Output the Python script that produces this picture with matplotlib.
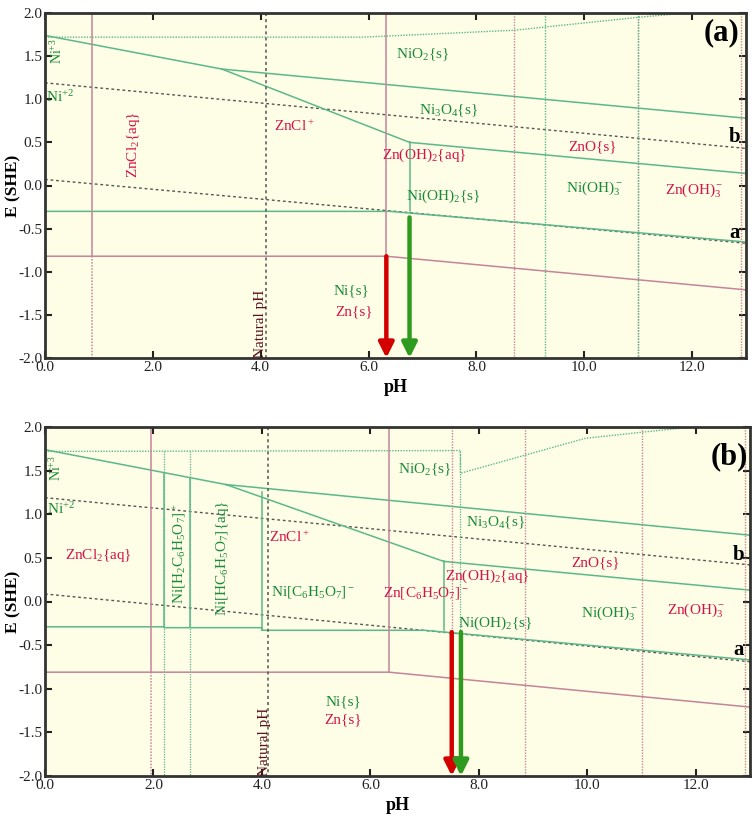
import matplotlib
matplotlib.use("Agg")
import matplotlib.pyplot as plt

plt.rcParams['font.family'] = ['Liberation Serif', 'DejaVu Serif']
plt.rcParams['mathtext.fontset'] = 'custom'
plt.rcParams['mathtext.rm'] = 'Liberation Serif'
plt.rcParams['mathtext.it'] = 'Liberation Serif:italic'
plt.rcParams['mathtext.bf'] = 'Liberation Serif:bold'
plt.rcParams['axes.unicode_minus'] = False

# ---------------- data (pH, E) ----------------
X_TICKS = [0, 2, 4, 6, 8, 10, 12]
Y_TICKS = [-2.0, -1.5, -1.0, -0.5, 0.0, 0.5, 1.0, 1.5, 2.0]

# panel (a)
A_WATER_B_PH = [0, 13];            A_WATER_B_E = [1.19, 0.43]
A_WATER_A_PH = [0, 13];            A_WATER_A_E = [0.07, -0.67]
A_NIO2_TOP_PH = [0, 5.9, 8.7, 11.0, 11.9]
A_NIO2_TOP_E = [1.72, 1.72, 1.80, 1.95, 2.0]
A_NI3_PH = [0, 3.28];              A_NI3_E = [1.74, 1.35]
A_NIO2_NI3O4_PH = [3.28, 13];      A_NIO2_NI3O4_E = [1.35, 0.78]
A_NI2_NI3O4_PH = [3.28, 6.76];     A_NI2_NI3O4_E = [1.35, 0.50]
A_NI3O4_NIOH2_PH = [6.76, 13];     A_NI3O4_NIOH2_E = [0.50, 0.14]
A_NIOH2_VERT_PH = [6.76, 6.76];    A_NIOH2_VERT_E = [0.50, -0.30]
A_NI_PH = [0, 6.4, 13];            A_NI_E = [-0.30, -0.30, -0.655]
A_ZN_PH = [0, 6.33, 13];           A_ZN_E = [-0.82, -0.82, -1.21]
A_ZN_SOLID_V = [0.87, 6.33]
A_ZN_DOT_V = [8.69, 11.0, 12.9]
A_NI_DOT_V = [9.27, 11.0]
A_NATURAL_PH = 4.09
A_ARROW_ZN = (6.33, -0.82)
A_ARROW_NI = (6.76, -0.37)

# panel (b)
B_WATER_B_PH = [0, 13];            B_WATER_B_E = [1.19, 0.42]
B_WATER_A_PH = [0, 13];            B_WATER_A_E = [0.086, -0.69]
B_NIO2_TOP_PH = [0, 7.66, 7.66, 9.96, 11.0, 11.95]
B_NIO2_TOP_E = [1.72, 1.73, 1.47, 1.87, 1.94, 2.0]
B_NI3_PH = [0, 3.34];              B_NI3_E = [1.74, 1.34]
B_NIO2_NI3O4_PH = [3.34, 13];      B_NIO2_NI3O4_E = [1.34, 0.76]
B_NI2_NI3O4_PH = [3.34, 7.35];     B_NI2_NI3O4_E = [1.34, 0.46]
B_NI3O4_NIOH2_PH = [7.35, 13];     B_NI3O4_NIOH2_E = [0.46, 0.13]
B_NIOH2_VERT_PH = [7.35, 7.35];    B_NIOH2_VERT_E = [0.46, -0.33]
B_CIT_VERT_PH = [4.0, 4.0];        B_CIT_VERT_E = [1.25, -0.33]
B_H2CIT_V = [2.2, 2.67];           B_H2CIT_TOP = [1.47, 1.42]
B_NI_PH = [0, 2.2, 2.2, 4.0, 4.0, 7.0, 13]
B_NI_E = [-0.29, -0.29, -0.30, -0.30, -0.33, -0.33, -0.67]
B_ZN_PH = [0, 6.34, 13];           B_ZN_E = [-0.81, -0.81, -1.21]
B_ZN_SOLID_V = [1.95, 6.34]
B_ZN_DOT_V = [8.86, 11.0, 12.9]
B_ZN_DOT_PART = 7.5
B_NI_DOT_PART = 7.66
B_NATURAL_PH = 4.12
B_ARROW_ZN = (7.5, -0.35)
B_ARROW_NI = (7.67, -0.35)

# ---------------- style ----------------
BG = '#fefee6'
GL = '#5cb88a'       # green boundary lines
GT = '#1a8a3a'       # green text
PL = '#c4849a'       # pink boundary lines
CT = '#d4124a'       # crimson text
DOT = '#555555'
LW = 1.1

fig = plt.figure(figsize=(7.56, 8.16), dpi=100)
ax1 = fig.add_axes([45/756, 1-358/816, (746-45)/756, (358-13)/816])
ax2 = fig.add_axes([45/756, 1-776/816, (750-45)/756, (776-427)/816])


def base(ax):
    ax.set_facecolor(BG)
    ax.set_xlim(0, 13)
    ax.set_ylim(-2, 2)
    ax.set_xticks(X_TICKS)
    ax.set_xticklabels([f"{v:.1f}" for v in X_TICKS])
    ax.set_yticks(Y_TICKS)
    ax.set_yticklabels([f"{v:.1f}" for v in Y_TICKS])
    ax.tick_params(direction='in', top=True, right=True, length=5, width=1.5,
                   labelsize=11, pad=2, colors='#222222')
    for s in ax.spines.values():
        s.set_linewidth(2)
        s.set_color('#333333')
    ax.set_xlabel('pH', fontsize=13, fontweight='bold')
    ax.set_ylabel('E (SHE)', fontsize=12.5, fontweight='bold')
    ax.yaxis.set_label_coords(-0.033, 0.5)


def vline(ax, x, y0, y1, color, ls='-', lw=LW, alpha=1.0):
    ax.plot([x, x], [y0, y1], color=color, ls=ls, lw=lw, alpha=alpha)


def arrow(ax, start, color):
    ax.annotate('', xy=(start[0], -2.0), xytext=start,
                arrowprops=dict(arrowstyle='-|>,head_width=0.45,head_length=0.9',
                                lw=3.2, color=color, shrinkA=0, shrinkB=0),
                zorder=5)


def txt(ax, x, y, s, color, **kw):
    kw.setdefault('fontsize', 11)
    ax.text(x, y, s, color=color, ha='center', va='center', **kw)


# ---------------- panel (a) ----------------
ax = ax1
base(ax)
ax.plot(A_WATER_B_PH, A_WATER_B_E, color=DOT, ls=(0, (2, 2)), lw=1.0)
ax.plot(A_WATER_A_PH, A_WATER_A_E, color=DOT, ls=(0, (2, 2)), lw=1.0)
ax.plot(A_NIO2_TOP_PH, A_NIO2_TOP_E, color=GL, ls=(0, (1, 1)), lw=1.0)
ax.plot(A_NI3_PH, A_NI3_E, color=GL, lw=LW)
ax.plot(A_NIO2_NI3O4_PH, A_NIO2_NI3O4_E, color=GL, lw=LW)
ax.plot(A_NI2_NI3O4_PH, A_NI2_NI3O4_E, color=GL, lw=LW)
ax.plot(A_NI3O4_NIOH2_PH, A_NI3O4_NIOH2_E, color=GL, lw=LW)
ax.plot(A_NIOH2_VERT_PH, A_NIOH2_VERT_E, color=GL, lw=LW)
ax.plot(A_NI_PH, A_NI_E, color=GL, lw=LW)
ax.plot(A_ZN_PH, A_ZN_E, color=PL, lw=LW)
for x in A_ZN_SOLID_V:
    vline(ax, x, 2.0, A_ZN_E[0], PL)
vline(ax, A_ZN_SOLID_V[0], A_ZN_E[0], -2.0, PL, ls=(0, (1, 1)))
for x in A_ZN_DOT_V:
    vline(ax, x, 2.0, -2.0, PL, ls=(0, (1, 1)), lw=1.0)
for x in A_NI_DOT_V:
    vline(ax, x, 2.0, -2.0, GL, ls=(0, (1, 1)), lw=1.0)
vline(ax, A_NATURAL_PH, 2.0, -2.0, DOT, ls=(0, (2, 2)), lw=1.1)
arrow(ax, A_ARROW_ZN, '#d40000')
arrow(ax, A_ARROW_NI, '#2e9a1e')

txt(ax, 0.22, 1.56, 'Ni$^{+3}$', GT, rotation=90, fontsize=10)
txt(ax, 0.28, 1.02, 'Ni$^{+2}$', GT, fontsize=11)
txt(ax, 1.64, 0.47, 'ZnCl$_2${aq}', CT, rotation=90)
txt(ax, 4.63, 0.69, 'ZnCl$^+$', CT)
txt(ax, 7.0, 1.51, 'NiO$_2${s}', GT)
txt(ax, 7.48, 0.87, 'Ni$_3$O$_4${s}', GT)
txt(ax, 7.04, 0.35, 'Zn(OH)$_2${aq}', CT)
txt(ax, 10.15, 0.45, 'ZnO{s}', CT)
txt(ax, 10.19, -0.03, 'Ni(OH)$_3^-$', GT)
txt(ax, 12.04, -0.05, 'Zn(OH)$_3^-$', CT)
txt(ax, 7.38, -0.12, 'Ni(OH)$_2${s}', GT)
txt(ax, 5.68, -1.22, 'Ni{s}', GT)
txt(ax, 5.74, -1.47, 'Zn{s}', CT)
ax.text(4.0, -2.0, 'Natural pH', color='#5a1020', rotation=90,
        ha='center', va='bottom', fontsize=11)
txt(ax, 12.55, 1.77, '(a)', 'black', fontsize=22, fontweight='bold')
txt(ax, 12.79, 0.56, 'b', 'black', fontsize=15, fontweight='bold')
txt(ax, 12.79, -0.55, 'a', 'black', fontsize=15, fontweight='bold')

# ---------------- panel (b) ----------------
ax = ax2
base(ax)
ax.plot(B_WATER_B_PH, B_WATER_B_E, color=DOT, ls=(0, (2, 2)), lw=1.0)
ax.plot(B_WATER_A_PH, B_WATER_A_E, color=DOT, ls=(0, (2, 2)), lw=1.0)
ax.plot(B_NIO2_TOP_PH, B_NIO2_TOP_E, color=GL, ls=(0, (1, 1)), lw=1.0)
ax.plot(B_NI3_PH, B_NI3_E, color=GL, lw=LW)
ax.plot(B_NIO2_NI3O4_PH, B_NIO2_NI3O4_E, color=GL, lw=LW)
ax.plot(B_NI2_NI3O4_PH, B_NI2_NI3O4_E, color=GL, lw=LW)
ax.plot(B_NI3O4_NIOH2_PH, B_NI3O4_NIOH2_E, color=GL, lw=LW)
ax.plot(B_NIOH2_VERT_PH, B_NIOH2_VERT_E, color=GL, lw=LW)
ax.plot(B_CIT_VERT_PH, B_CIT_VERT_E, color=GL, lw=LW)
for x, top in zip(B_H2CIT_V, B_H2CIT_TOP):
    vline(ax, x, top, B_NI_E[0], GL)
    vline(ax, x, 1.72, -2.0, GL, ls=(0, (1, 1)), lw=0.9)
vline(ax, B_NI_DOT_PART, 1.73, -0.35, GL, ls=(0, (1, 1)), lw=0.9)
ax.plot(B_NI_PH, B_NI_E, color=GL, lw=LW)
ax.plot(B_ZN_PH, B_ZN_E, color=PL, lw=LW)
for x in B_ZN_SOLID_V:
    vline(ax, x, 2.0, B_ZN_E[0], PL)
vline(ax, B_ZN_SOLID_V[0], B_ZN_E[0], -2.0, PL, ls=(0, (1, 1)))
vline(ax, B_ZN_DOT_PART, 2.0, -0.35, PL, ls=(0, (1, 1)), lw=1.0)
for x in B_ZN_DOT_V:
    vline(ax, x, 2.0, -2.0, PL, ls=(0, (1, 1)), lw=1.0)
vline(ax, B_NATURAL_PH, 2.0, -2.0, DOT, ls=(0, (2, 2)), lw=1.1)
arrow(ax, B_ARROW_ZN, '#d40000')
arrow(ax, B_ARROW_NI, '#2e9a1e')

txt(ax, 0.2, 1.53, 'Ni$^{+3}$', GT, rotation=90, fontsize=10)
txt(ax, 0.3, 1.06, 'Ni$^{+2}$', GT, fontsize=11)
txt(ax, 0.98, 0.53, 'ZnCl$_2${aq}', CT)
txt(ax, 2.47, 0.55, 'Ni[H$_2$C$_6$H$_5$O$_7$]$^+$', GT, rotation=90)
txt(ax, 3.27, 0.50, 'Ni[HC$_6$H$_5$O$_7$]{aq}', GT, rotation=90)
txt(ax, 4.5, 0.74, 'ZnCl$^+$', CT)
txt(ax, 4.94, 0.11, 'Ni[C$_6$H$_5$O$_7$]$^-$', GT)
txt(ax, 7.0, 1.51, 'NiO$_2${s}', GT)
txt(ax, 8.3, 0.90, 'Ni$_3$O$_4${s}', GT)
txt(ax, 10.15, 0.44, 'ZnO{s}', CT)
txt(ax, 8.15, 0.29, 'Zn(OH)$_2${aq}', CT)
txt(ax, 7.03, 0.10, 'Zn[C$_6$H$_5$O$_7$]$^-$', CT)
txt(ax, 10.4, -0.13, 'Ni(OH)$_3^-$', GT)
txt(ax, 12.0, -0.10, 'Zn(OH)$_3^-$', CT)
txt(ax, 8.3, -0.25, 'Ni(OH)$_2${s}', GT)
txt(ax, 5.5, -1.15, 'Ni{s}', GT)
txt(ax, 5.5, -1.36, 'Zn{s}', CT)
ax.text(4.05, -2.0, 'Natural pH', color='#5a1020', rotation=90,
        ha='center', va='bottom', fontsize=11)
txt(ax, 12.62, 1.66, '(b)', 'black', fontsize=22, fontweight='bold')
txt(ax, 12.79, 0.53, 'b', 'black', fontsize=15, fontweight='bold')
txt(ax, 12.79, -0.56, 'a', 'black', fontsize=15, fontweight='bold')

fig.savefig('out.png', dpi=100, facecolor='white')
